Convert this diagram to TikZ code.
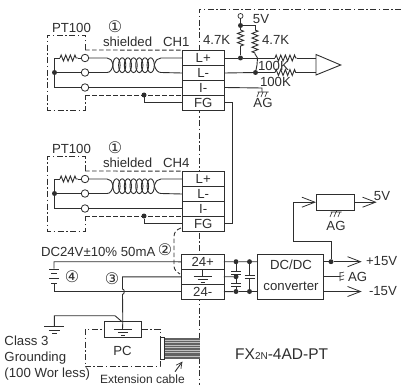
\documentclass[tikz,border=0pt]{standalone}
\usepackage{fontspec}
\setmainfont{Liberation Sans}
\newfontfamily\symfont{DejaVu Sans}
\usetikzlibrary{arrows.meta,decorations.pathmorphing,calc}
\definecolor{ink}{HTML}{2E2E2E}
\tikzset{
  wire/.style={draw=ink,line width=0.9pt},
  dashdot/.style={draw=ink,line width=0.8pt,dash pattern=on 6pt off 2.5pt on 1.5pt off 2.5pt},
  dashwire/.style={draw=ink,line width=0.9pt,dash pattern=on 4.5pt off 2.5pt},
  term/.style={draw=ink,line width=0.9pt,fill=white,minimum width=42.5pt,inner sep=0pt,outer sep=0pt,text=ink,font=\fontsize{13.2}{14}\selectfont},
  lbl/.style={inner sep=0pt,outer sep=0pt,text=ink,font=\fontsize{13.2}{14}\selectfont},
  num/.style={inner sep=0pt,outer sep=0pt,text=ink,font=\symfont\fontsize{16}{16}\selectfont},
  jdot/.style={circle,fill=ink,inner sep=0pt,minimum size=5pt,outer sep=0pt},
  hole/.style={circle,draw=ink,line width=0.8pt,fill=white,inner sep=0pt,minimum size=7.5pt,outer sep=0pt},
  res/.style={wire,decorate,decoration={zigzag,amplitude=3pt,segment length=4.6pt}},
  barb/.style={wire,-{Straight Barb[length=13pt,width=10pt,line width=0.8pt]}},
  hatchgnd/.pic={
    \draw[draw=ink,line width=0.6pt] (-5.5,0)--(5.5,0) (-4,0)--(-6,5) (0,0)--(-2,5) (4,0)--(2,5);
  },
  earth/.pic={
    \draw[draw=ink,line width=0.8pt] (-9,0)--(9,0) (-5,3.5)--(5,3.5) (-2,6.5)--(2,6.5);
  }
}
\begin{document}
\begin{tikzpicture}[x=1pt,y=-1pt]
\useasboundingbox (0,0) rectangle (401,385);
% module frame
\coordinate (frameA) at (401,9);
\coordinate (frameB) at (199.5,9);
\coordinate (frameC) at (199.5,385);
\draw[dashdot] (frameA) -- (frameB) -- (frameC);

% input channels
\foreach \ch/\dy/\cname/\yt in {1/0/CH1/0,4/121/CH4/0}{
\begin{scope}[shift={(0,\dy)}]
  \draw[dashdot] (85,50) -- (85,35) -- (47.5,35) -- (47.5,110) -- (85,110) -- (85,95);
  \node[term,minimum height=15.7pt] (Lp\ch) at (203.2,58) {L+};
  \node[term,minimum height=14.3pt] (Lm\ch) at (203.2,73) {L-};
  \node[term,minimum height=15pt] (Im\ch) at (203.2,87.5) {I-};
  \node[term,minimum height=15pt] (FG\ch) at (203.2,102.5) {FG};
  \node[hole] (ca\ch) at (85,58) {};
  \node[hole] (cb\ch) at (85,72.5) {};
  \node[hole] (cc\ch) at (85,87.5) {};
  \node[jdot] (jl\ch) at (54.5,72.5) {};
  \coordinate (ra\ch) at (60,58);
  \coordinate (rb\ch) at (78,58);
  \draw[wire] (cc\ch) -- (54.5,87.5) -- (jl\ch) -- (54.5,58) -- (ra\ch);
  \draw[res] (ra\ch) -- (rb\ch);
  \draw[wire] (rb\ch) -- (ca\ch);
  \draw[wire] (jl\ch) -- (cb\ch);
  \draw[wire] (cc\ch) -- (cc\ch -| Lp\ch.west);
  % twisted pair
  \foreach \cx in {116.5,122.2,127.9,133.6,139.3,145,150.7}
    \draw[wire] (\cx,65.2) ellipse (3.6pt and 7.4pt);
  \draw[wire] (ca\ch) -- (107,58) .. controls (110,58) and (112,60) .. (113,65)
              .. controls (112,70) and (110,72.5) .. (107,72.5) -- (cb\ch);
  \draw[wire] (Lp\ch.west) -- (161,58) .. controls (158,58) and (155.5,60) .. (154.3,65)
              .. controls (155.5,70) and (158,72.5) .. (161,72.5) -- (Lm\ch.west);
  % shield
  \draw[dashwire] (85,50) -- (Lp\ch.north west);
  \draw[dashwire] (85,95) -- (Im\ch.south west);
  \node[jdot] (js\ch) at (144,95) {};
  \draw[wire] (js\ch) -- (144,102.5) -- (FG\ch.west);
  \node[lbl,anchor=west] (pt\ch) at (52,28) {PT100};
  \node[lbl,anchor=west] (sh\ch) at (103,42) {shielded};
  \node[lbl,anchor=west] (nm\ch) at (163,42) {\cname};
  \node[num] (one\ch) at (115,27) {①};
\end{scope}
}
% FG link
\draw[wire] (FG1.east) -- (232.8,102.5) -- (232.8,223.5) -- (FG4.east);

% top channel analog side
\coordinate (ampA) at (316,54.5);
\coordinate (ampB) at (316,75);
\node[inner sep=0pt] (ampT) at (340.7,65) {};
\draw[wire,fill=white] (ampA) -- (ampT.center) -- (ampB) -- cycle;
\node[jdot] (d1) at (240.5,58) {};
\node[jdot] (d2) at (255.5,72.5) {};
\node[jdot] (d3) at (240.5,25.5) {};
\node[circle,draw=ink,line width=0.7pt,fill=white,inner sep=0pt,minimum size=5pt] (vcc) at (240.5,16) {};
\draw[wire] (Lp1.east) -- (d1) -- (275,58);
\draw[res] (275,58) -- (297,58);
\draw[wire] (297,58) -- (316,58);
\draw[wire] (Lm1.east) -- (d2) -- (275,72.5);
\draw[res] (275,72.5) -- (297,72.5);
\draw[wire] (297,72.5) -- (316,72.5);
\draw[wire] (vcc) -- (d3) -- (240.5,30);
\draw[res] (240.5,30) -- (240.5,48);
\draw[wire] (240.5,48) -- (d1);
\draw[wire] (d3) -- (255,25.5) -- (255,30);
\draw[res] (255,30) -- (255,54);
\draw[wire] (255,54) -- (257.5,58) -- (257,65) -- (d2);
\coordinate (iend) at (262,88);
\draw[wire] (Im1.east) -- (iend) -- (262,92);
\pic at (263,92) {hatchgnd};
\node[lbl] (t5a) at (261,19.5) {5V};
\node[lbl,anchor=west] (tra) at (203,40) {4.7K};
\node[lbl,anchor=west] (trb) at (262,40) {4.7K};
\node[lbl,anchor=west] (trc) at (258,66) {100K};
\node[lbl,anchor=west] (trd) at (260,82) {100K};
\node[lbl] (tag1) at (263,103) {AG};

% power terminals
\node[term,minimum height=15pt] (pp) at (202.7,261.8) {24+};
\node[term,minimum height=15pt] (pg) at (202.7,276.8) {};
\node[term,minimum height=15pt] (pm) at (202.7,291.7) {24-};
\draw[wire] (pg.north) -- (202.7,276);
\pic at (202.7,276) {earth};
\node[draw=ink,line width=0.9pt,fill=white,minimum width=66pt,minimum height=45pt,inner sep=0pt,outer sep=0pt] (dc) at (290.7,276.5) {};
\node[lbl] (dca) at (291,264.5) {DC/DC};
\node[lbl] (dcb) at (291,286.5) {converter};
\node[jdot] (e1) at (236,261.7) {};
\node[jdot] (e2) at (249.5,261.7) {};
\node[jdot] (e3) at (236,276.7) {};
\node[jdot] (e4) at (236,291.5) {};
\node[jdot] (e5) at (249.5,291.5) {};
\draw[wire] (pp.east) -- (e1) -- (e2) -- (e2 -| dc.west);
\draw[wire] (pg.east) -- (e3);
\draw[wire] (pm.east) -- (e4) -- (e5) -- (e5 -| dc.west);
\draw[wire] (e1) -- (236,271) (236,274) -- (e3) -- (236,283.5) (236,286.5) -- (e4);
\draw[wire] (231,271) -- (241,271) (231,274) -- (241,274) (231,283.5) -- (241,283.5) (231,286.5) -- (241,286.5);
\draw[wire] (e2) -- (249.5,275) (249.5,278) -- (e5);
\draw[wire] (244.5,275) -- (254.5,275) (244.5,278) -- (254.5,278);
% outputs
\node[jdot] (e6) at (331,261.7) {};
\coordinate (p15) at (361.7,261.7);
\coordinate (m15) at (361.7,291.5);
\draw[wire] (e6 -| dc.east) -- (e6);
\draw[barb] (e6) -- (p15);
\draw[barb] (dc.east |- m15) -- (m15);
\draw[wire] (dc.east |- 0,276.5) -- (340,276.5);
\draw[draw=ink,line width=0.6pt] (340,272) -- (340,281) (340,273) -- (344,272) (340,276.5) -- (344,275.5) (340,280) -- (344,279);
\node[lbl,anchor=west] (tp) at (366,261.5) {+15V};
\node[lbl,anchor=west] (tg) at (348,277) {AG};
\node[lbl,anchor=west] (tm) at (369,291.5) {-15V};
% reference regulator
\node[draw=ink,line width=0.9pt,fill=white,minimum width=38pt,minimum height=15.7pt,inner sep=0pt,outer sep=0pt] (reg) at (335,202.2) {};
\draw[barb] (e6) -- (331,241) -- (293.3,241) -- (293.3,202.2) -- (reg.west);
\coordinate (out5) at (376.7,202.2);
\draw[barb] (reg.east) -- (out5);
\node[lbl] (t5b) at (382,196) {5V};
\pic at (336,212) {hatchgnd};
\draw[wire] (336,210) -- (336,212);
\node[lbl] (tag2) at (336,226) {AG};

% supply
\coordinate (batT) at (54,268.5);
\coordinate (batB) at (54,283.5);
\draw[wire] (pp.west) -- (54,261.7) -- (batT);
\draw[wire] (batB) -- (54,291.7) -- (pm.west);
\draw[draw=ink,line width=0.8pt] (49,269) -- (59,269) (49,278.5) -- (59,278.5);
\draw[draw=ink,line width=1.6pt] (51,273.5) -- (57,273.5) (51,283.5) -- (57,283.5);
\node[num] (n4) at (72,277) {④};
\node[num] (n3) at (112,279) {③};
\node[num] (n2) at (165,249.5) {②};
\node[lbl,anchor=west] (tdc) at (41,252) {DC24V±10\% 50mA};
\draw[dashwire] (181,228) .. controls (176,230) and (174,232) .. (174,237) -- (174,266) .. controls (174,270) and (177,272) .. (180,274);

% PC
\draw[dashdot] (85,329) rectangle (160,366.7);
\node[lbl] (tpc) at (122.5,351) {PC};
\node[draw=ink,line width=0.9pt,fill=white,minimum width=37.7pt,minimum height=15.6pt,inner sep=0pt,outer sep=0pt] (gbox) at (122.8,329.5) {};
\pic at (122.8,329.3) {earth};
\draw[wire] (pg.west) -- (122.5,276.8) -- (122.5,289) arc (-90:90:1.8pt and -2.7pt) -- (gbox.north);
\draw[wire] (122.5,329.3) -- (gbox.north);
\coordinate (gnd) at (54.3,326.7);
\draw[wire] (gbox.north -| 122,0) -- (115,315.7) -- (54.3,315.7) -- (gnd);
\pic[xscale=1.1] at (gnd) {earth};
% cable
\node[draw=ink,line width=0.7pt,fill=white,minimum width=4.5pt,minimum height=22pt,inner sep=0pt,outer sep=0pt] (plug) at (162.3,348.3) {};
\fill[ink!75] (165,338) rectangle (199.5,358.5);
\foreach \yy in {340,342.5,345,347.5,350,352.5,356}
  \draw[white!70!ink,line width=0.5pt] (165,\yy) -- (199.5,\yy);
\coordinate (arA) at (175,371.7);
\coordinate (arB) at (182.5,361.5);
\draw[wire,-{Straight Barb[length=6pt,width=6pt,line width=0.7pt]}] (arA) -- (arB);
\node[lbl,anchor=west,font=\fontsize{12}{14}\selectfont] (text) at (100,379) {Extension cable};
\node[lbl,anchor=west] (tc1) at (4.5,341) {Class 3};
\node[lbl,anchor=west] (tc2) at (4.5,357.7) {Grounding};
\node[lbl,anchor=west] (tc3) at (4.5,374) {(100 Wor less)};
\node[inner sep=0pt,text=ink,anchor=west,font=\fontsize{15.5}{16}\selectfont] (tfx) at (235,354) {FX{\fontsize{10}{12}\selectfont 2N}-4AD-PT};
\end{tikzpicture}
\end{document}
